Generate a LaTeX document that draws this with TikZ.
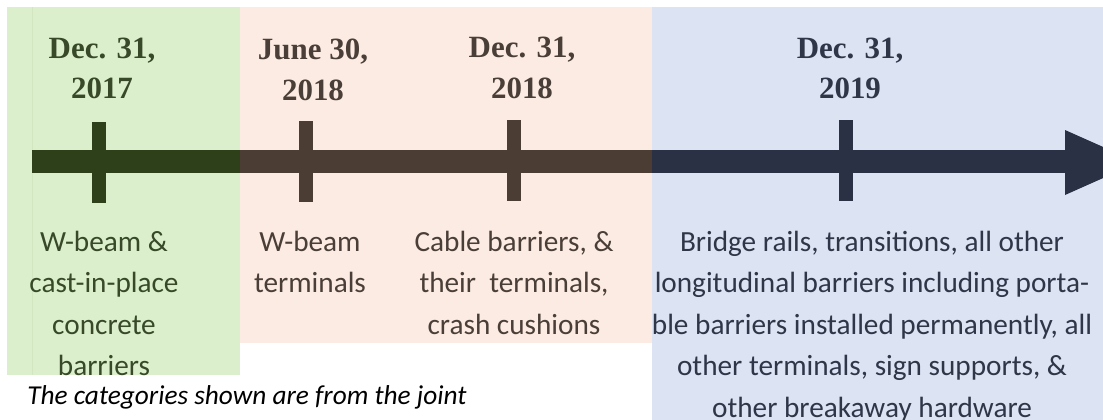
\documentclass[tikz,border=0pt]{standalone}
\usepackage{fontspec}
\setmainfont{Liberation Serif}
\newfontfamily\labelfont{Carlito}
\usetikzlibrary{calc}

\definecolor{greenbg}{HTML}{DCEFCC}
\definecolor{greenedge}{HTML}{D2E6C2}
\definecolor{peachbg}{HTML}{FCEBE2}
\definecolor{bluebg}{HTML}{DCE3F3}
\definecolor{greenbar}{HTML}{2E4019}
\definecolor{brownbar}{HTML}{4B3C34}
\definecolor{navybar}{HTML}{2A3145}
\definecolor{greentext}{HTML}{38492A}
\definecolor{browntext}{HTML}{4A3F38}
\definecolor{navytext}{HTML}{2F3648}

\begin{document}
\begin{tikzpicture}[x=0.025cm, y=-0.025cm,
	datelabel/.style={font=\bfseries\fontsize{22}{28.5}\selectfont, align=center, anchor=base, inner sep=0pt},
	textlabel/.style={font=\labelfont\fontsize{20.8}{29.5}\selectfont, align=center, anchor=base, inner sep=0pt}]
			%%%%% START %%%%%
			
			\useasboundingbox (0, 0) rectangle (1103, 420);
			
			\fill[greenbg] (7, 7) rectangle (240, 375);
			\draw[greenedge, line width=0.4pt] (32, 7) -- (32, 375);
			\fill[peachbg] (240, 7) rectangle (652, 343);
			\fill[bluebg] (652, 7) rectangle (1103, 420);
			
			\fill[greenbar] (32, 150) rectangle (240, 173);
			\fill[brownbar] (240, 150) rectangle (652, 173);
			\fill[navybar] (652, 150) rectangle (1066, 173);
			\fill[navybar] (1065, 130) -- (1138, 162.5) -- (1065, 195) -- cycle;
			
			\fill[greenbar] (92, 122) rectangle (106, 203);
			\fill[brownbar] (299, 121) rectangle (313, 202);
			\fill[brownbar] (507, 120) rectangle (521, 201);
			\fill[navybar] (839, 120) rectangle (853, 201);
			
			% dates above the bar (base = last line)
			\node[datelabel, text=greentext] (d17) at (102, 99) {Dec. 31,\\2017};
			\node[datelabel, text=browntext] (d18a) at (313, 100) {June 30,\\2018};
			\node[datelabel, text=browntext] (d18b) at (522, 98) {Dec. 31,\\2018};
			\node[datelabel, text=navytext] (d19) at (850, 99) {Dec. 31,\\2019};
			
			\begin{scope}
				\clip (7, 7) rectangle (240, 375);
				\node[textlabel, text=greentext] (t17) at (104, 375.5) {W-beam \&\\cast-in-place\\concrete\\barriers};
			\end{scope}
			\node[textlabel, text=browntext] (t18a) at (310, 292.5) {W-beam\\terminals};
			\node[textlabel, text=browntext] (t18b) at (514, 334) {Cable barriers, \&\\their~ terminals,\\crash cushions};
			\node[textlabel, text=navytext] (t19) at (872, 417) {Bridge rails, transitions, all other\\longitudinal barriers including porta-\\ble barriers installed permanently, all\\other terminals, sign supports, \&\\other breakaway hardware};
			
			\node[font=\labelfont\itshape\fontsize{19.4}{20}\selectfont, anchor=base west, inner sep=0pt] (note) at (27, 404) {The categories shown are from the joint};
			
			%%%%% END %%%%%
		\end{tikzpicture}
\end{document}
